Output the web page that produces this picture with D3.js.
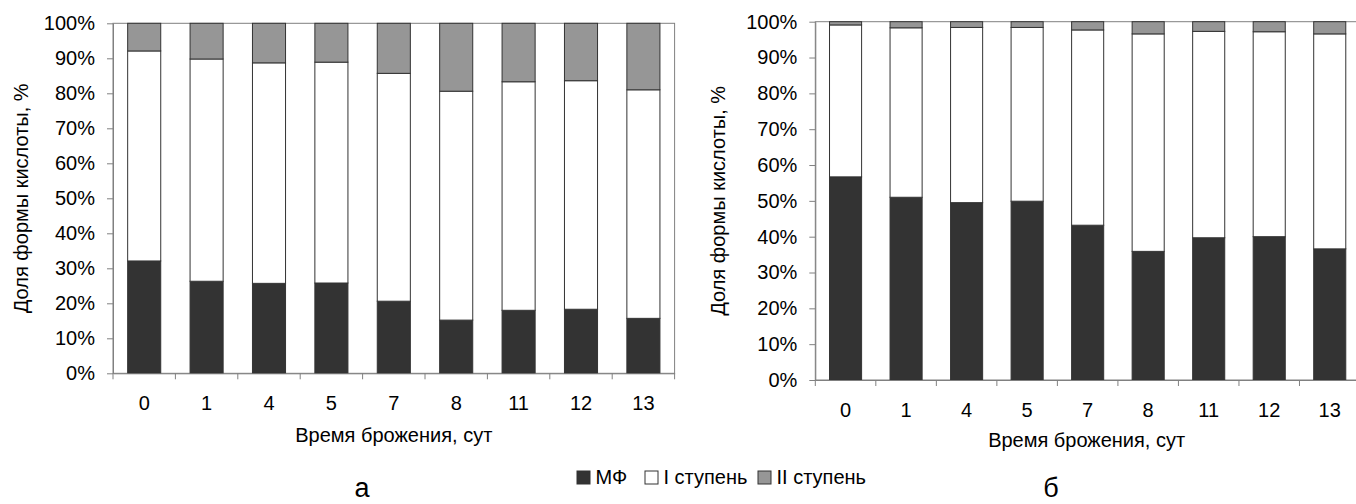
<!DOCTYPE html>
<html>
<head>
<meta charset="utf-8">
<script src="https://cdn.jsdelivr.net/npm/d3@7"></script>
<style>
  body { margin: 0; background: #fff; }
  text { font-family: "Liberation Sans", Arial, sans-serif; fill: #000; }
</style>
</head>
<body>
<script>
/* Define data. */
const days = ["0", "1", "4", "5", "7", "8", "11", "12", "13"]
const seriesNames = ["МФ", "I ступень", "II ступень"]
const colors = ["#333333", "#ffffff", "#969696"]

// chart а
const mfA = [32.1, 26.3, 25.7, 25.8, 20.6, 15.2, 18.0, 18.3, 15.7]
const stage1A = [60.0, 63.5, 63.0, 63.1, 65.1, 65.4, 65.3, 65.3, 65.3]
const stage2A = [7.9, 10.2, 11.3, 11.1, 14.3, 19.4, 16.7, 16.4, 19.0]

// chart б
const mfB = [56.7, 51.0, 49.5, 49.9, 43.2, 35.9, 39.7, 40.0, 36.6]
const stage1B = [42.4, 47.3, 48.9, 48.5, 54.5, 60.7, 57.6, 57.2, 60.0]
const stage2B = [0.9, 1.7, 1.6, 1.6, 2.3, 3.4, 2.7, 2.8, 3.4]

const yTicks = [0, 10, 20, 30, 40, 50, 60, 70, 80, 90, 100]

const yTitle = "Доля формы кислоты, %"
const xTitle = "Время брожения, сут"

/* Define svg-size. */
const width = 1356
const height = 504
const fontSize = "20px"

/* Create svg-element. */
const svg = d3.select("body")
  .append("svg")
  .attr("width", width)
  .attr("height", height)

/* Define drawChart. */
function drawChart(opt, mf, s1, s2) {
  const rows = days.map((d, i) => ({ day: d, mf: mf[i], s1: s1[i], s2: s2[i] }))
  const stack = d3.stack().keys(["mf", "s1", "s2"])(rows)

  const xBand = d3.scaleBand()
    .domain(days)
    .range([opt.x0, opt.x1])

  const xBar = d3.scaleBand()
    .domain(days)
    .range([opt.x0, opt.x1])
    .paddingInner(0.47)
    .paddingOuter(0.235)

  const y = d3.scaleLinear()
    .domain([0, 100])
    .range([opt.y1, opt.y0])

  const g = svg.append("g")

  // plot area border
  g.append("rect")
    .attr("x", opt.x0)
    .attr("y", opt.y0)
    .attr("width", opt.x1 - opt.x0)
    .attr("height", opt.y1 - opt.y0)
    .attr("fill", "none")
    .attr("stroke", "#808080")

  // bars
  g.selectAll("g.series")
    .data(stack)
    .enter()
    .append("g")
    .attr("class", "series")
    .attr("fill", (d, i) => colors[i])
    .selectAll("rect")
    .data(d => d)
    .enter()
    .append("rect")
    .attr("x", d => xBar(d.data.day))
    .attr("y", d => y(d[1]))
    .attr("width", xBar.bandwidth())
    .attr("height", d => y(d[0]) - y(d[1]))
    .attr("stroke", "#333")
    .attr("stroke-width", 1)

  // y axis
  const yAxis = d3.axisLeft(y)
    .tickValues(yTicks)
    .tickFormat(d => d + "%")
    .tickSize(6)
    .tickSizeOuter(0)
    .tickPadding(12)

  const ya = g.append("g")
    .attr("transform", `translate(${opt.x0},0)`)
    .call(yAxis)
  ya.selectAll("path, line").attr("stroke", "#808080")
  ya.selectAll("text")
    .style("font-size", fontSize)
    .attr("fill", "#000")

  // x axis
  const xAxis = d3.axisBottom(xBand)
    .tickSize(0)
    .tickSizeOuter(0)
    .tickPadding(opt.xPad)

  const xa = g.append("g")
    .attr("transform", `translate(0,${opt.y1})`)
    .call(xAxis)
  xa.select("path").attr("stroke", "#808080")
  xa.selectAll("text")
    .style("font-size", fontSize)
    .attr("fill", "#000")

  // category ticks between bars
  const bounds = days.map(d => xBand(d)).concat([opt.x1])
  g.selectAll("line.ctick")
    .data(bounds)
    .enter()
    .append("line")
    .attr("class", "ctick")
    .attr("x1", d => d)
    .attr("x2", d => d)
    .attr("y1", opt.y1)
    .attr("y2", opt.y1 + 6)
    .attr("stroke", "#808080")

  // axis titles
  g.append("text")
    .attr("x", (opt.x0 + opt.x1) / 2 + opt.xTitleShift)
    .attr("y", opt.xTitleY)
    .attr("text-anchor", "middle")
    .style("font-size", fontSize)
    .text(xTitle)

  g.append("text")
    .attr("transform", `translate(${opt.yTitleX},${(opt.y0 + opt.y1) / 2}) rotate(-90)`)
    .attr("text-anchor", "middle")
    .style("font-size", fontSize)
    .text(yTitle)

  // panel letter
  g.append("text")
    .attr("x", opt.letterX)
    .attr("y", 497)
    .attr("text-anchor", "middle")
    .style("font-size", "27px")
    .text(opt.letter)
}

drawChart({ x0: 113, x1: 674.6, y0: 23.3, y1: 373.3, xPad: 23, xTitleY: 442, xTitleShift: 0, yTitleX: 28, letter: "а", letterX: 362 },
  mfA, stage1A, stage2A)

drawChart({ x0: 815.3, x1: 1360, y0: 21.7, y1: 380, xPad: 23, xTitleY: 447, xTitleShift: -1, yTitleX: 725, letter: "б", letterX: 1051 },
  mfB, stage1B, stage2B)

/* Create legend. */
const legendX = [577, 645, 758]
const legend = svg.append("g")

legend.selectAll("rect")
  .data(seriesNames)
  .enter()
  .append("rect")
  .attr("x", (d, i) => legendX[i])
  .attr("y", 471)
  .attr("width", 13)
  .attr("height", 13)
  .attr("fill", (d, i) => colors[i])
  .attr("stroke", "#333")

legend.selectAll("text")
  .data(seriesNames)
  .enter()
  .append("text")
  .attr("x", (d, i) => legendX[i] + 18.5)
  .attr("y", 484)
  .style("font-size", fontSize)
  .text(d => d)
</script>
</body>
</html>
